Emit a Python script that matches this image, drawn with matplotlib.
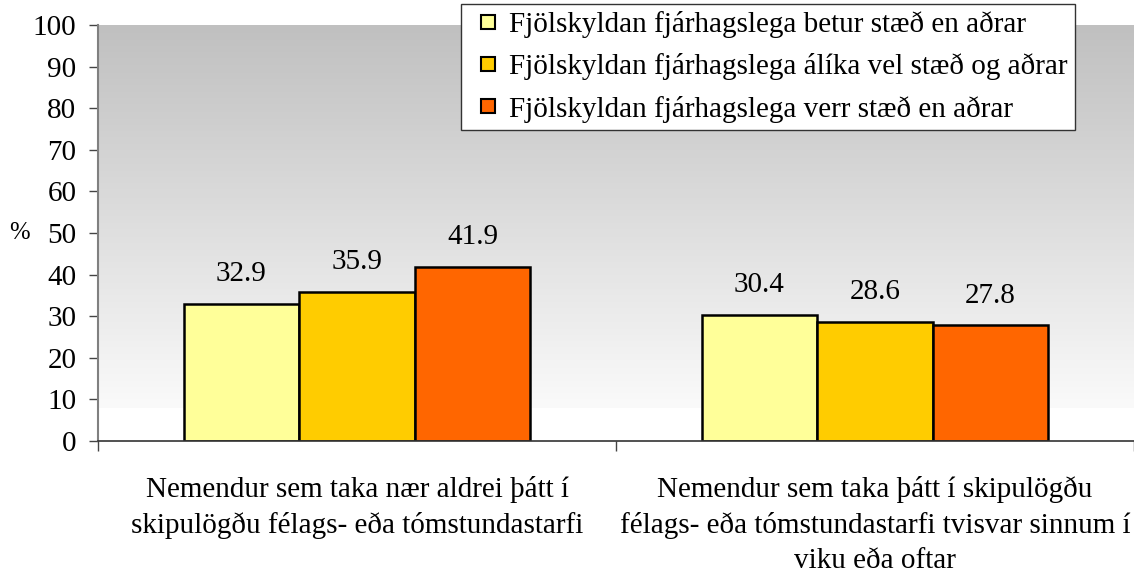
import numpy as np
import matplotlib
matplotlib.use("Agg")
import matplotlib.pyplot as plt
from matplotlib.lines import Line2D

categories = [
    "Nemendur sem taka nær aldrei þátt í\nskipulögðu félags- eða tómstundastarfi",
    "Nemendur sem taka þátt í skipulögðu\nfélags- eða tómstundastarfi tvisvar sinnum í\nviku eða oftar",
]
series_names = [
    "Fjölskyldan fjárhagslega betur stæð en aðrar",
    "Fjölskyldan fjárhagslega álíka vel stæð og aðrar",
    "Fjölskyldan fjárhagslega verr stæð en aðrar",
]
better = [32.9, 30.4]
similar = [35.9, 28.6]
worse = [41.9, 27.8]
yticks = [0, 10, 20, 30, 40, 50, 60, 70, 80, 90, 100]

colors = ["#FFFF99", "#FFCC00", "#FF6600"]
FS = 21

plt.rcParams['font.family'] = ['Liberation Serif', 'DejaVu Serif']

fig = plt.figure(figsize=(11.34, 5.73), dpi=100)
ax = fig.add_axes([98/1134, 1-441/573, 1-98/1134, (441-25)/573])

# gradient background
n = 200
vals = np.linspace(100, 0, n)
grey = np.where(vals > 8, 192 + (vals.max() - vals) / (100 - 8) * (250 - 192), 255) / 255.0
img = np.repeat(grey[:, None], 2, axis=1)
img = np.dstack([img, img, img])
ax.imshow(img, extent=[-0.5, 1.5, 0, 100], aspect='auto', zorder=0, interpolation='nearest')

x = np.arange(len(categories))
w = 0.223
for i, (vals_s, c) in enumerate(zip([better, similar, worse], colors)):
    pos = x + (i - 1) * w
    bars = ax.bar(pos, vals_s, width=w, color=c, edgecolor='black', linewidth=1.8, zorder=2)
    for b, v in zip(bars, vals_s):
        ax.annotate(f"{v:.1f}", (b.get_x() + b.get_width()/2, v), xytext=(0, 12),
                    textcoords='offset points', ha='center', va='bottom', fontsize=FS)

ax.set_xlim(-0.5, 1.5)
ax.set_ylim(0, 100)
ax.set_yticks(yticks)
ax.set_yticklabels([str(t) for t in yticks], fontsize=FS)
ax.tick_params(axis='y', length=6.5, width=1, color='#444444', pad=9)

ax.set_xticks([-0.5, 0.5, 1.5])
ax.set_xticklabels([])
ax.tick_params(axis='x', length=7, width=1, color='#444444')
for xi, lab in zip(x, categories):
    ax.text(xi, -8.4, lab, ha='center', va='top', fontsize=FS, linespacing=1.44,
            transform=ax.transData)

for s in ['top', 'right']:
    ax.spines[s].set_visible(False)
ax.spines['left'].set_color('#808080')
ax.spines['left'].set_linewidth(1.5)
ax.spines['bottom'].set_color('#333333')
ax.spines['bottom'].set_linewidth(1.2)

fig.text(19/1134, 1-233/573, "%", ha='center', va='center', fontsize=FS * 0.85)

handles = [Line2D([], [], linestyle='none', marker='s', markersize=9.6, markerfacecolor=c,
                  markeredgecolor='black', markeredgewidth=1.5) for c in colors]
leg = fig.legend(handles, series_names, loc='upper left', bbox_to_anchor=(461/1134, 1-4/573),
                 fontsize=FS, frameon=True, fancybox=False, handlelength=1.34,
                 handletextpad=0.05, borderpad=0.25, labelspacing=0.52, borderaxespad=0,
                 framealpha=1)
leg.get_frame().set_edgecolor('#333333')
leg.get_frame().set_facecolor('white')
leg.get_frame().set_linewidth(1.0)

fig.savefig("out.png", dpi=100)
